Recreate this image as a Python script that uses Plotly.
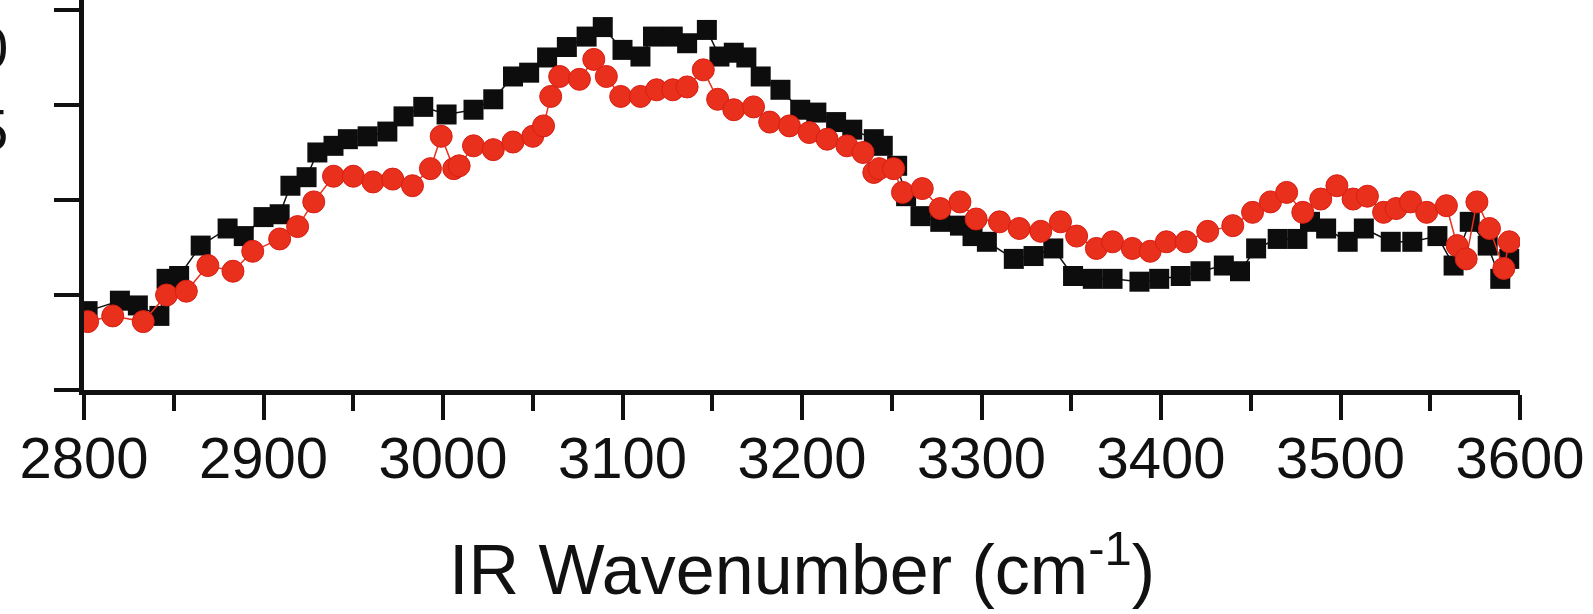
import plotly.graph_objects as go

# Black series (squares)
black_x = [2802, 2820, 2830, 2842, 2846, 2853, 2865, 2880, 2889, 2900, 2909, 2915, 2924, 2930,
           2939, 2947, 2958, 2969, 2978, 2989, 3002, 3017, 3028, 3039, 3048, 3058, 3069, 3080,
           3089, 3100, 3110, 3117, 3128, 3136, 3147, 3154, 3162, 3169, 3177, 3188, 3199, 3208,
           3219, 3228, 3240, 3245, 3253, 3258, 3266, 3277, 3288, 3295, 3303, 3318, 3329, 3340,
           3351, 3362, 3373, 3388, 3399, 3411, 3422, 3435, 3444, 3453, 3465, 3476, 3483, 3492,
           3504, 3513, 3528, 3540, 3554, 3563, 3572, 3582, 3589, 3594]
black_y = [0.83, 0.94, 0.89, 0.78, 1.17, 1.20, 1.52, 1.70, 1.62, 1.82, 1.85, 2.15, 2.24, 2.50,
           2.57, 2.64, 2.67, 2.72, 2.88, 2.98, 2.90, 2.95, 3.06, 3.30, 3.34, 3.50, 3.61, 3.72,
           3.82, 3.58, 3.51, 3.72, 3.72, 3.65, 3.79, 3.51, 3.55, 3.50, 3.30, 3.16, 2.95, 2.92,
           2.82, 2.74, 2.64, 2.57, 2.36, 2.04, 1.83, 1.77, 1.73, 1.62, 1.56, 1.38, 1.41, 1.49,
           1.20, 1.17, 1.17, 1.14, 1.17, 1.20, 1.25, 1.31, 1.25, 1.49, 1.59, 1.59, 1.77, 1.70,
           1.56, 1.70, 1.56, 1.56, 1.62, 1.31, 1.77, 1.52, 1.17, 1.38]

# Red series (circles)
red_x = [2802, 2816, 2833, 2846, 2857, 2869, 2883, 2894, 2909, 2919, 2928, 2939, 2950, 2961,
         2972, 2983, 2993, 2999, 3006, 3009, 3017, 3028, 3039, 3050, 3056, 3060, 3065, 3076,
         3084, 3091, 3099, 3110, 3119, 3128, 3136, 3145, 3153, 3162, 3173, 3182, 3193, 3204,
         3214, 3225, 3234, 3240, 3243, 3251, 3256, 3267, 3277, 3288, 3297, 3310, 3321, 3333,
         3344, 3353, 3364, 3373, 3384, 3394, 3403, 3414, 3426, 3440, 3451, 3461, 3470, 3479,
         3489, 3498, 3507, 3515, 3524, 3531, 3539, 3548, 3559, 3565, 3570, 3576, 3583, 3591, 3594]
red_y = [0.72, 0.78, 0.72, 1.00, 1.04, 1.31, 1.25, 1.46, 1.59, 1.72, 1.98, 2.25, 2.25, 2.19,
         2.22, 2.15, 2.33, 2.67, 2.33, 2.36, 2.57, 2.53, 2.61, 2.67, 2.78, 3.09, 3.30, 3.27,
         3.48, 3.30, 3.09, 3.09, 3.16, 3.16, 3.19, 3.37, 3.06, 2.95, 2.98, 2.82, 2.78, 2.71,
         2.64, 2.57, 2.50, 2.29, 2.33, 2.33, 2.08, 2.12, 1.91, 1.98, 1.80, 1.77, 1.70, 1.67,
         1.77, 1.62, 1.49, 1.56, 1.49, 1.46, 1.56, 1.56, 1.67, 1.73, 1.87, 1.98, 2.08, 1.87,
         2.01, 2.15, 2.01, 2.04, 1.87, 1.91, 1.98, 1.87, 1.94, 1.52, 1.38, 1.98, 1.70, 1.28, 1.56]

x_ticks = [2800, 2900, 3000, 3100, 3200, 3300, 3400, 3500, 3600]
y_ticks = [0, 1, 2, 3, 4]

fig = go.Figure()
fig.add_trace(go.Scatter(
    x=black_x, y=black_y, mode="lines+markers",
    line=dict(color="#111111", width=1.5),
    marker=dict(symbol="square", size=20, color="#0d0d0d", line=dict(width=0)),
    showlegend=False))
fig.add_trace(go.Scatter(
    x=red_x, y=red_y, mode="lines+markers",
    line=dict(color="#e8301c", width=1.5),
    marker=dict(symbol="circle", size=22, color="#e8301c", line=dict(width=1, color="#d81e14")),
    showlegend=False))

FONT = "Liberation Sans, Arial, sans-serif"
lab_x = (9 - 84) / 1436

fig.update_layout(
    width=1593, height=614,
    margin=dict(l=84, r=73, t=0, b=224),
    paper_bgcolor="white", plot_bgcolor="white",
    font=dict(family=FONT, color="#111111"),
    xaxis=dict(
        range=[2800, 3600], tickvals=x_ticks, ticktext=[str(v) for v in x_ticks],
        showgrid=False, zeroline=False, showline=True, linecolor="#111111", linewidth=5,
        ticks="outside", ticklen=25, tickwidth=4, tickcolor="#111111",
        minor=dict(dtick=50, tick0=2800, ticks="outside", ticklen=16, tickwidth=4,
                   tickcolor="#111111", showgrid=False),
        tickfont=dict(size=58, family=FONT, color="#111111"),
        ticklabelstandoff=-12,
        title=dict(text="IR Wavenumber (cm<sup>-1</sup>)",
                   font=dict(size=70, family=FONT, color="#111111"), standoff=58),
    ),
    yaxis=dict(
        range=[0, 4.105], tickvals=y_ticks, showticklabels=False,
        showgrid=False, zeroline=False, showline=True, linecolor="#111111", linewidth=5,
        ticks="outside", ticklen=25, tickwidth=4, tickcolor="#111111",
    ),
    annotations=[
        dict(text="0", x=lab_x, y=3.61, xref="paper", yref="y", showarrow=False,
             xanchor="right", yanchor="middle", borderpad=0,
             font=dict(size=58, family=FONT, color="#111111")),
        dict(text="5", x=lab_x, y=2.74, xref="paper", yref="y", showarrow=False,
             xanchor="right", yanchor="middle", borderpad=0,
             font=dict(size=58, family=FONT, color="#111111")),
    ],
)

fig.write_html("out.html", config={"displayModeBar": False},
               post_script="document.body.style.margin='0';")
